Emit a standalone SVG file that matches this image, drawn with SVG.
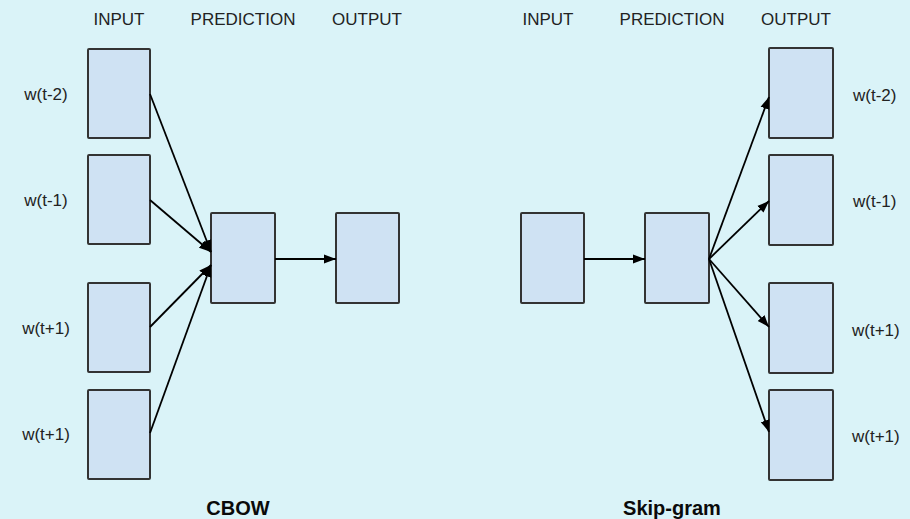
<svg xmlns="http://www.w3.org/2000/svg" width="910" height="519" viewBox="0 0 910 519">
  <style>
    .bg { fill: #daf3f8; }
    .box { fill: #cfe2f3; stroke: #333333; stroke-width: 2; }
    .head { font-family: "Liberation Sans", Arial, sans-serif; font-size: 17px; fill: #222222; text-anchor: middle; }
    .lbl { font-family: "Liberation Sans", Arial, sans-serif; font-size: 17px; fill: #222222; }
    .title { font-family: "Liberation Sans", Arial, sans-serif; font-size: 20px; font-weight: bold; fill: #0a0a0a; text-anchor: middle; }
    .edge { fill: none; stroke: #000000; stroke-width: 1.8; marker-end: url(#arrow); }
  </style>
  <defs>
    <marker id="arrow" viewBox="0 0 12 10" refX="12" refY="5" markerWidth="12" markerHeight="10" markerUnits="userSpaceOnUse" orient="auto">
      <path d="M0,0.5 L12,5 L0,9.5 z" fill="#000000"/>
    </marker>
  </defs>

  <rect class="bg" x="0" y="0" width="910" height="519"/>

  <!-- column headings -->
  <g id="headings">
    <text class="head" x="119" y="25">INPUT</text>
    <text class="head" x="243" y="25">PREDICTION</text>
    <text class="head" x="367" y="25">OUTPUT</text>
    <text class="head" x="548" y="25">INPUT</text>
    <text class="head" x="672" y="25">PREDICTION</text>
    <text class="head" x="796" y="25">OUTPUT</text>
  </g>

  <!-- CBOW model -->
  <g id="cbow-in-t-2"><rect class="box" x="88" y="49" width="62" height="89" rx="1"/><text class="lbl" x="46" y="100" text-anchor="middle">w(t-2)</text></g>
  <g id="cbow-in-t-1"><rect class="box" x="88" y="155" width="62" height="89" rx="1"/><text class="lbl" x="46" y="206" text-anchor="middle">w(t-1)</text></g>
  <g id="cbow-in-t+1a"><rect class="box" x="88" y="283" width="62" height="89" rx="1"/><text class="lbl" x="46" y="334" text-anchor="middle">w(t+1)</text></g>
  <g id="cbow-in-t+1b"><rect class="box" x="88" y="390" width="62" height="89" rx="1"/><text class="lbl" x="46" y="440" text-anchor="middle">w(t+1)</text></g>
  <g id="cbow-pred"><rect class="box" x="211" y="213" width="64" height="90" rx="1"/></g>
  <g id="cbow-out"><rect class="box" x="336" y="213" width="63" height="90" rx="1"/></g>
  <g id="cbow-title"><text class="title" x="238" y="515">CBOW</text></g>

  <!-- Skip-gram model -->
  <g id="sg-in"><rect class="box" x="521" y="213" width="63" height="90" rx="1"/></g>
  <g id="sg-pred"><rect class="box" x="645" y="213" width="64" height="90" rx="1"/></g>
  <g id="sg-out-t-2"><rect class="box" x="769" y="48" width="64" height="90" rx="1"/><text class="lbl" x="853" y="101">w(t-2)</text></g>
  <g id="sg-out-t-1"><rect class="box" x="769" y="155" width="64" height="90" rx="1"/><text class="lbl" x="853" y="207">w(t-1)</text></g>
  <g id="sg-out-t+1a"><rect class="box" x="769" y="283" width="64" height="90" rx="1"/><text class="lbl" x="852" y="336">w(t+1)</text></g>
  <g id="sg-out-t+1b"><rect class="box" x="769" y="390" width="64" height="90" rx="1"/><text class="lbl" x="852" y="442">w(t+1)</text></g>
  <g id="sg-title"><text class="title" x="672" y="515">Skip-gram</text></g>

  <!-- connectors -->
  <g id="connectors">
    <line class="edge" x1="150" y1="94" x2="211" y2="252"/>
    <line class="edge" x1="150" y1="200" x2="211" y2="252"/>
    <line class="edge" x1="150" y1="327" x2="211" y2="265"/>
    <line class="edge" x1="150" y1="433" x2="211" y2="265"/>
    <line class="edge" x1="275" y1="259" x2="336" y2="259"/>
    <line class="edge" x1="584" y1="259" x2="645" y2="259"/>
    <line class="edge" x1="709" y1="259" x2="769" y2="97"/>
    <line class="edge" x1="709" y1="259" x2="769" y2="201"/>
    <line class="edge" x1="709" y1="259" x2="769" y2="327"/>
    <line class="edge" x1="709" y1="259" x2="769" y2="432"/>
  </g>
</svg>
